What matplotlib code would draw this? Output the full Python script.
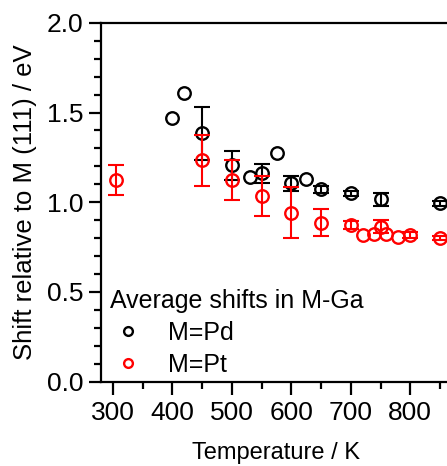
import numpy as np
import matplotlib.pyplot as plt

plt.rcParams['font.family'] = ['Liberation Sans', 'DejaVu Sans']

# M = Pd
pd_T = [400, 420, 450, 500, 530, 550, 576, 600, 625, 650, 700, 750, 850]
pd_shift = [1.467, 1.607, 1.384, 1.206, 1.139, 1.161, 1.272, 1.105, 1.129, 1.072, 1.050, 1.016, 0.994]
pd_err = [np.nan, np.nan, 0.147, 0.082, np.nan, 0.054, np.nan, 0.042, np.nan, 0.020, 0.015, 0.036, 0.015]

# M = Pt
pt_T = [306, 450, 500, 550, 600, 650, 700, 720, 739, 750, 760, 780, 800, 850]
pt_shift = [1.124, 1.235, 1.122, 1.035, 0.942, 0.886, 0.873, 0.817, 0.823, 0.864, 0.823, 0.805, 0.817, 0.799]
pt_err = [0.082, 0.142, 0.112, 0.112, 0.141, 0.076, 0.020, np.nan, np.nan, 0.036, np.nan, np.nan, 0.015, 0.012]

fig = plt.figure(figsize=(4.47, 4.66), dpi=100)
ax = fig.add_axes([0.226, 0.181, 0.785, 0.770])

def draw(T, v, e, color, label):
    T = np.array(T, float)
    v = np.array(v, float)
    e = np.array(e, float)
    m = ~np.isnan(e)
    ax.errorbar(T[m], v[m], yerr=e[m], fmt='none', ecolor=color,
                elinewidth=1.5, capsize=6, capthick=1.5)
    ax.plot(T, v, 'o', mfc='none', mec=color, mew=1.7, ms=9, ls='none',
            label=label)

draw(pd_T, pd_shift, pd_err, 'black', 'M=Pd')
draw(pt_T, pt_shift, pt_err, 'red', 'M=Pt')

ax.set_xlim(280, 870)
ax.set_ylim(0, 2.0)
ax.set_xticks([300, 400, 500, 600, 700, 800])
ax.set_xticks(np.arange(350, 870, 100), minor=True)
ax.set_yticks([0.0, 0.5, 1.0, 1.5, 2.0])
ax.set_yticks(np.arange(0.1, 2.0, 0.1), minor=True)
ax.yaxis.set_major_formatter(plt.FormatStrFormatter('%.1f'))
ax.tick_params(which='both', direction='out', width=1.6, labelsize=19)
ax.tick_params(which='major', length=9)
ax.tick_params(which='minor', length=5)
ax.tick_params(axis='x', pad=5)
for s in ax.spines.values():
    s.set_linewidth(1.6)

ax.set_xlabel('Temperature / K', fontsize=17, labelpad=12)
ax.set_ylabel('Shift relative to M (111) / eV', fontsize=18.5, labelpad=7)

leg = ax.legend(loc='lower left', bbox_to_anchor=(-0.025, -0.035), frameon=False,
                title='Average shifts in M-Ga', title_fontsize=18, fontsize=18,
                markerscale=0.7, handlelength=1.5, handletextpad=0.85,
                labelspacing=0.3, borderaxespad=0.3)
leg._legend_box.align = 'left'
leg._legend_box.sep = 6

fig.savefig('out.png', dpi=100)
